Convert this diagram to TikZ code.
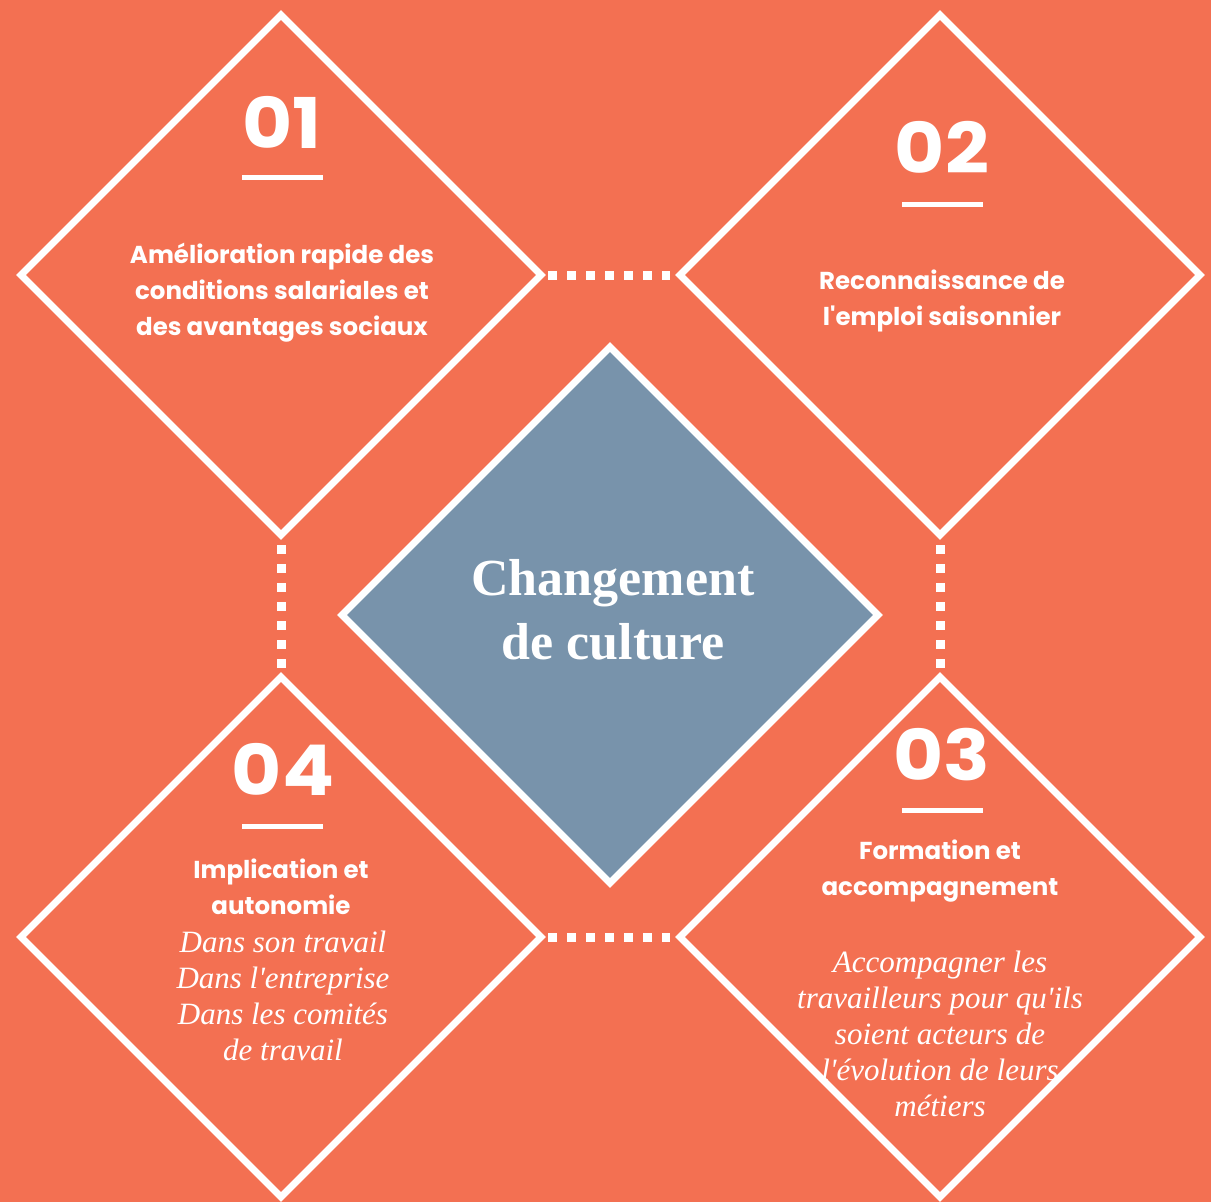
\documentclass[tikz,border=0pt]{standalone}
\usepackage{fontspec}
\setsansfont{Poppins}
\setmainfont{Liberation Serif}
\usepackage{tikz}
\usetikzlibrary{shapes.geometric}

\definecolor{bgorange}{HTML}{F37052}
\definecolor{slate}{HTML}{7893AB}
\newcommand{\aq}{\textquotesingle}

\begin{document}
\begin{tikzpicture}[x=1pt,y=-1pt,line width=7pt]
\tikzstyle{box}=[draw=white,diamond,shape aspect=1,minimum size=520pt,inner sep=0pt,outer sep=0pt];
\tikzstyle{dots}=[white,line width=9pt,dash pattern=on 9pt off 10pt];
\tikzstyle{num}=[white,font=\sffamily\bfseries\fontsize{70}{70}\selectfont\addfontfeature{FakeStretch=1.1},anchor=base];
\tikzstyle{bar}=[white,line width=5pt];
\tikzstyle{head}=[white,font=\sffamily\bfseries\fontsize{24.5}{36}\selectfont,align=center];
\tikzstyle{note}=[white,font=\itshape\fontsize{31}{36}\selectfont,align=center];

\fill [bgorange] (0,0) rectangle (1211,1202);
\useasboundingbox (0,0) rectangle (1211,1202);

\node [box] (d1) at (281,275) {};
\node [box] (d2) at (940,275) {};
\node [box] (d3) at (940,937) {};
\node [box] (d4) at (281,937) {};
\node [box,fill=slate,minimum size=536pt] (dc) at (610,615) {};

\draw [dots,shorten <=7pt,shorten >=10pt] (d1.east) -- (d2.west);
\draw [dots,shorten <=10pt,shorten >=8pt] (d1.south) -- (d4.north);
\draw [dots,shorten <=10pt,shorten >=8pt] (d2.south) -- (d3.north);
\draw [dots,shorten <=7pt,shorten >=10pt] (d4.east) -- (d3.west);

% numbers
\node [num] (n1) at (282,148) {01};
\node [num] (n2) at (942,173) {02};
\node [num] (n3) at (942,780) {03};
\node [num] (n4) at (283,795) {04};
\draw [bar] (242,177) -- (323,177);
\draw [bar] (902,204) -- (983,204);
\draw [bar] (902,810) -- (983,810);
\draw [bar] (242,826) -- (323,826);

% texts
\node [head] (t1) at (282,293) {Amélioration rapide des\\conditions salariales et\\des avantages sociaux};
\node [head] (t2) at (942,301) {Reconnaissance de\\l\aq emploi saisonnier};
\node [head] (t3) at (940,871) {Formation et\\accompagnement};
\node [note] (s3) at (940,1034) {Accompagner les\\travailleurs pour qu\aq ils\\soient acteurs de\\l\aq évolution de leurs\\métiers};
\node [head] (t4) at (281,887) {Implication et\\autonomie};
\node [note] (s4) at (283,996) {Dans son travail\\Dans l\aq entreprise\\Dans les comités\\de travail};

\node [white,font=\bfseries\fontsize{52}{64}\selectfont,align=center] (tc) at (613,610) {Changement\\de culture};
\end{tikzpicture}
\end{document}
